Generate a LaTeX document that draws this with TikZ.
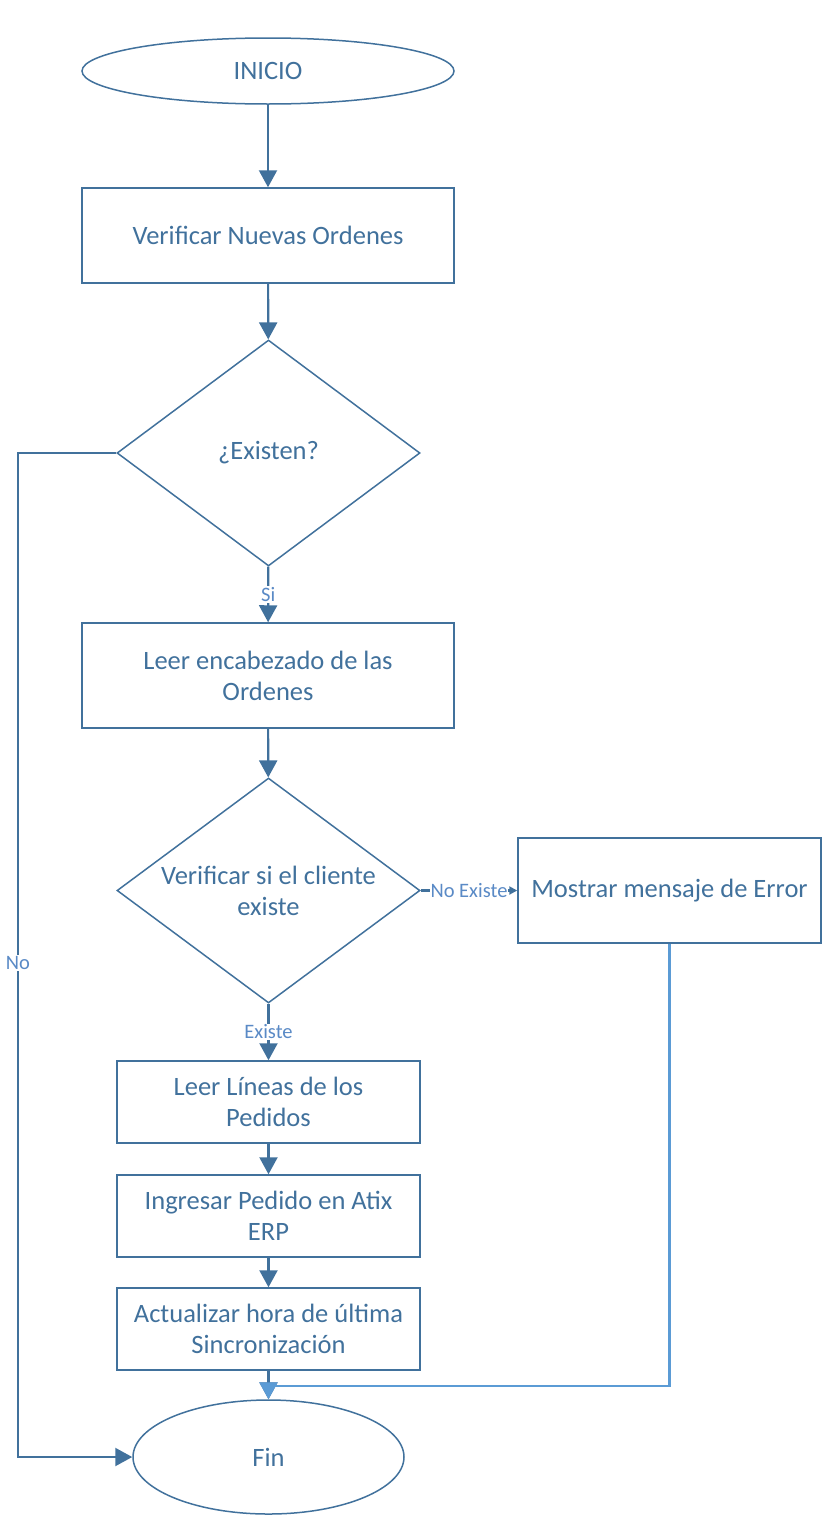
\documentclass[tikz,border=0pt]{standalone}
\usepackage{fontspec}
\setmainfont{Carlito}
\usetikzlibrary{shapes.geometric,arrows.meta}
\definecolor{dk}{HTML}{41719C}
\definecolor{lb}{HTML}{5B9BD5}
\definecolor{lt}{HTML}{5A8AC6}
\tikzset{
  shp/.style={draw=dk, line width=1.5pt, text=dk, font=\fontsize{26.5}{31}\selectfont, align=center, inner sep=0pt},
  boxn/.style={shp, rectangle},
  ell/.style={shp, ellipse},
  dia/.style={shp, diamond},
  conn/.style={draw=dk, line width=2.2pt, -{Triangle[width=18pt,length=17pt]}},
  lbl/.style={text=lt, fill=white, font=\fontsize{20.5}{22}\selectfont, inner sep=1pt}
}
\begin{document}
\begin{tikzpicture}[x=1pt,y=-1pt]
\useasboundingbox (0,0) rectangle (825,1521);
\node[ell, minimum width=372pt, minimum height=66pt] (ini) at (268,71) {INICIO};
\node[boxn, minimum width=372pt, minimum height=95pt] (ver) at (268,235.5) {Verificar Nuevas Ordenes};
\node[dia, minimum width=303pt, minimum height=226pt, aspect=1.34] (ex) at (268.5,453) {};
\node[text=dk, font=\fontsize{26.5}{31}\selectfont] (ext) at (268.5,453) {¿Existen?};
\node[boxn, minimum width=372pt, minimum height=105pt] (leer) at (268,675.5) {Leer encabezado de las\\Ordenes};
\node[dia, minimum width=303pt, minimum height=225pt, aspect=1.34] (cli) at (268.5,890.5) {};
\node[text=dk, font=\fontsize{26.5}{31}\selectfont, align=center] (clit) at (268.5,891) {Verificar si el cliente\\existe};
\node[boxn, minimum width=303pt, minimum height=105pt] (err) at (669.5,890.5) {Mostrar mensaje de Error};
\node[boxn, minimum width=303pt, minimum height=82pt] (lin) at (268.5,1102) {Leer Líneas de los\\Pedidos};
\node[boxn, minimum width=303pt, minimum height=82pt] (ing) at (268.5,1216) {Ingresar Pedido en Atix\\ERP};
\node[boxn, minimum width=303pt, minimum height=82pt] (act) at (268.5,1329) {Actualizar hora de última\\Sincronización};
\node[ell, minimum width=271pt, minimum height=114pt] (fin) at (268.5,1457) {Fin};

\draw[conn] (ini) -- (ver);
\draw[conn] (ver) -- (ex);
\draw[conn] (ex) -- node[lbl, pos=0.5] {Si} (leer);
\draw[conn] (leer) -- (cli);
\draw[conn] (cli) -- node[lbl, pos=0.5] {Existe} (lin);
\draw[conn, -{Triangle[width=8pt,length=8pt]}] (cli.east) -- node[lbl, pos=0.5] {No Existe} (err.west);
\draw[conn] (lin) -- (ing);
\draw[conn] (ing) -- (act);
\draw[conn] (act) -- (fin);
\coordinate (nl) at (18,453);
\coordinate (nb) at (18,1457);
\draw[conn] (ex.west) -- (nl) -- node[lbl, pos=0.508] {No} (nb) -- (fin.west);
\coordinate (ec) at (669.5,1386);
\draw[conn, draw=lb, -{Triangle[width=18pt,length=17pt,fill=lb]}] (err.south) -- (ec) -- (268.5,1386) -- (fin.north);
\end{tikzpicture}
\end{document}
